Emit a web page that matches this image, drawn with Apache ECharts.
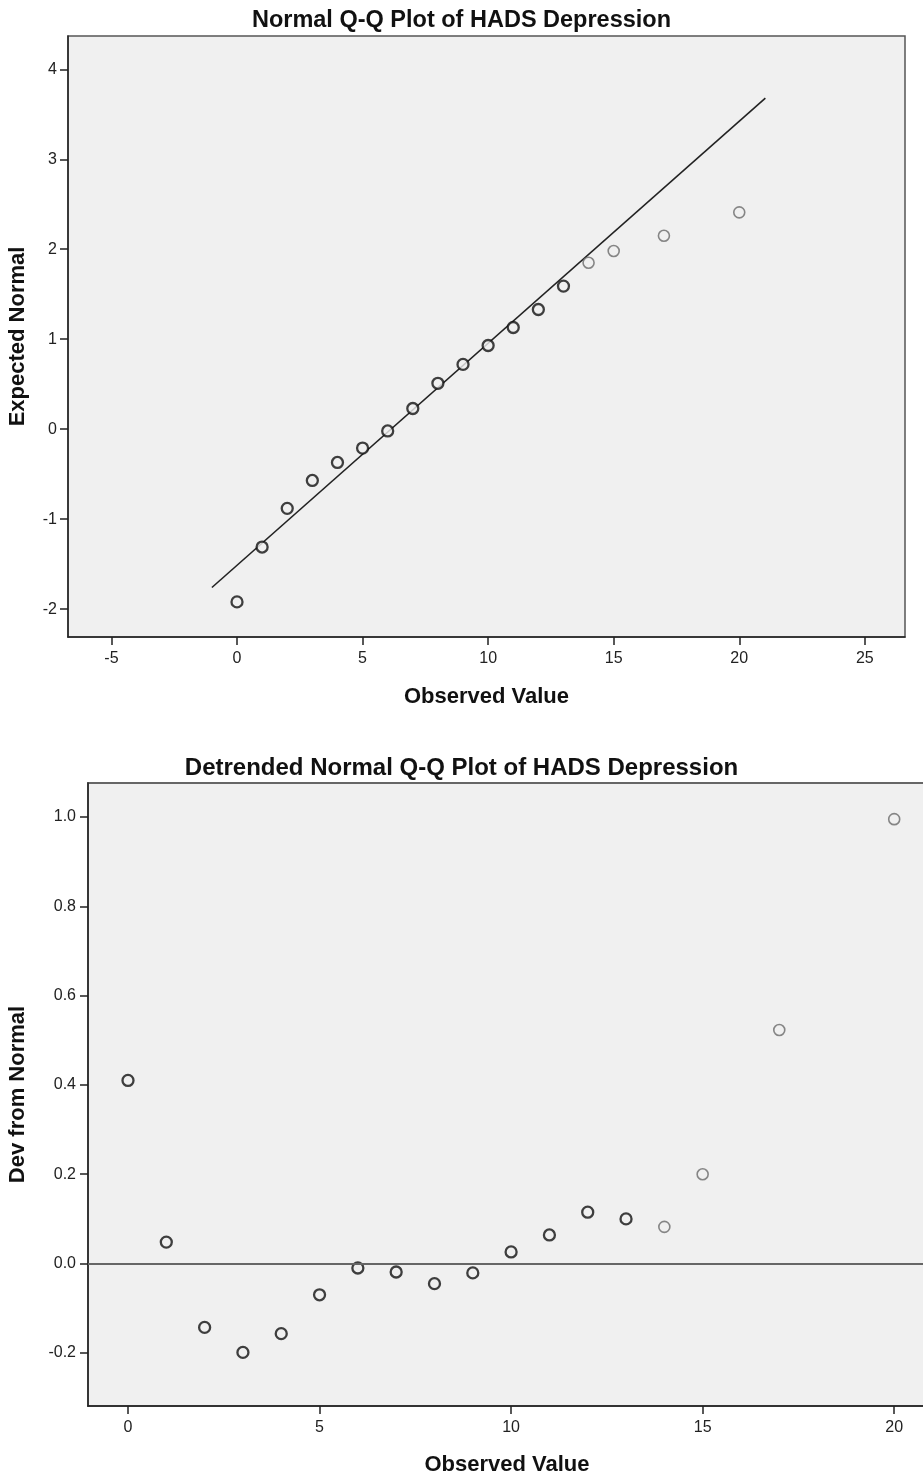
<!DOCTYPE html>
<html>
<head>
<meta charset="utf-8">
<title>Normal Q-Q Plot of HADS Depression</title>
<script src="https://cdn.jsdelivr.net/npm/echarts@6/dist/echarts.min.js"></script>
<style>
  html, body { margin: 0; padding: 0; background: #ffffff; }
  #qqChart { width: 923px; height: 1476px; }
</style>
</head>
<body>
<div id="qqChart"></div>
<script>
// observed HADS depression scores
var observed = [0, 1, 2, 3, 4, 5, 6, 7, 8, 9, 10, 11, 12, 13, 14, 15, 17, 20];
// expected normal values (top plot)
var expectedNormal = [-1.92, -1.31, -0.88, -0.57, -0.37, -0.21, -0.02, 0.23, 0.51, 0.72,
                      0.93, 1.13, 1.33, 1.59, 1.85, 1.98, 2.15, 2.41];
// deviation from normal (detrended plot)
var devFromNormal = [0.41, 0.048, -0.143, -0.199, -0.157, -0.07, -0.01, -0.019, -0.045, -0.021,
                     0.026, 0.064, 0.115, 0.10, 0.082, 0.20, 0.523, 0.995];
// reference line end points
var refLineX = [-1, 21.04];
var refLineY = [-1.76, 3.68];
// tick labels
var qqXTicks = [-5, 0, 5, 10, 15, 20, 25];
var qqYTicks = [-2, -1, 0, 1, 2, 3, 4];
var detXTicks = [0, 5, 10, 15, 20];
var detYTicks = [-0.2, 0.0, 0.2, 0.4, 0.6, 0.8, 1.0];

var fontName = 'Liberation Sans, Arial, sans-serif';

function pairs(xs, ys) {
    var out = [];
    for (var i = 0; i < xs.length; i++) {
        out.push([xs[i], ys[i]]);
    }
    return out;
}

// points from 14 upward are drawn lighter, like the SPSS output
function pointStyle(x) {
    if (x >= 14) {
        return { color: '#f0f0f0', borderColor: '#6a6a6a', borderWidth: 1.6 };
    }
    return { color: '#f0f0f0', borderColor: '#111111', borderWidth: 2.3 };
}

function styledPoints(xs, ys) {
    var out = [];
    for (var i = 0; i < xs.length; i++) {
        out.push({ value: [xs[i], ys[i]], itemStyle: pointStyle(xs[i]) });
    }
    return out;
}

function valueAxis(gridIndex, min, max, ticks, name, nameGap, digits, labelMargin) {
    return {
        type: 'value',
        gridIndex: gridIndex,
        min: min,
        max: max,
        name: name,
        nameLocation: 'middle',
        nameGap: nameGap,
        nameTextStyle: { fontFamily: fontName, fontSize: 22, fontWeight: 'bold', color: '#111' },
        splitLine: { show: false },
        axisLine: { show: true, onZero: false, lineStyle: { color: '#222', width: 1.5 } },
        axisTick: { show: true, length: 8, customValues: ticks, lineStyle: { color: '#222', width: 1.5 } },
        axisLabel: {
            customValues: ticks,
            fontFamily: fontName,
            fontSize: 16,
            color: '#222',
            margin: labelMargin,
            formatter: function (v) { return digits ? v.toFixed(digits) : String(v); }
        }
    };
}

var myChart = echarts.init(document.getElementById('qqChart'));

var option = {
    animation: false,
    backgroundColor: '#ffffff',
    title: [
        {
            text: 'Normal Q-Q Plot of HADS Depression',
            left: 'center',
            top: 4,
            textStyle: { fontFamily: fontName, fontSize: 23.5, fontWeight: 'bold', color: '#111' }
        },
        {
            text: 'Detrended Normal Q-Q Plot of HADS Depression',
            left: 'center',
            top: 751,
            textStyle: { fontFamily: fontName, fontSize: 24, fontWeight: 'bold', color: '#111' }
        }
    ],
    grid: [
        { left: 68, top: 36, width: 837, height: 601, show: true, outerBoundsMode: 'none',
          backgroundColor: '#f0f0f0', borderColor: '#555', borderWidth: 1.5 },
        { left: 88, top: 783, width: 838, height: 623, show: true, outerBoundsMode: 'none',
          backgroundColor: '#f0f0f0', borderColor: '#666', borderWidth: 1.8 }
    ],
    xAxis: [
        valueAxis(0, -6.73, 26.6, qqXTicks, 'Observed Value', 49, 0, 14),
        valueAxis(1, -1.044, 20.83, detXTicks, 'Observed Value', 48, 0, 14)
    ],
    yAxis: [
        valueAxis(0, -2.31, 4.37, qqYTicks, 'Expected Normal', 39, 0, 11),
        valueAxis(1, -0.319, 1.076, detYTicks, 'Dev from Normal', 59, 1, 12)
    ],
    series: [
        {
            // expected normal reference line
            type: 'line',
            xAxisIndex: 0,
            yAxisIndex: 0,
            data: pairs(refLineX, refLineY),
            symbol: 'none',
            lineStyle: { color: '#222', width: 1.6 },
            z: 2
        },
        {
            type: 'scatter',
            xAxisIndex: 0,
            yAxisIndex: 0,
            symbol: 'circle',
            symbolSize: 11,
            data: styledPoints(observed, expectedNormal),
            z: 3
        },
        {
            type: 'scatter',
            xAxisIndex: 1,
            yAxisIndex: 1,
            symbol: 'circle',
            symbolSize: 11,
            data: styledPoints(observed, devFromNormal),
            markLine: {
                silent: true,
                symbol: 'none',
                label: { show: false },
                lineStyle: { color: '#666', width: 2, type: 'solid' },
                data: [{ yAxis: 0 }]
            },
            z: 3
        }
    ]
};

myChart.setOption(option);
</script>
</body>
</html>
